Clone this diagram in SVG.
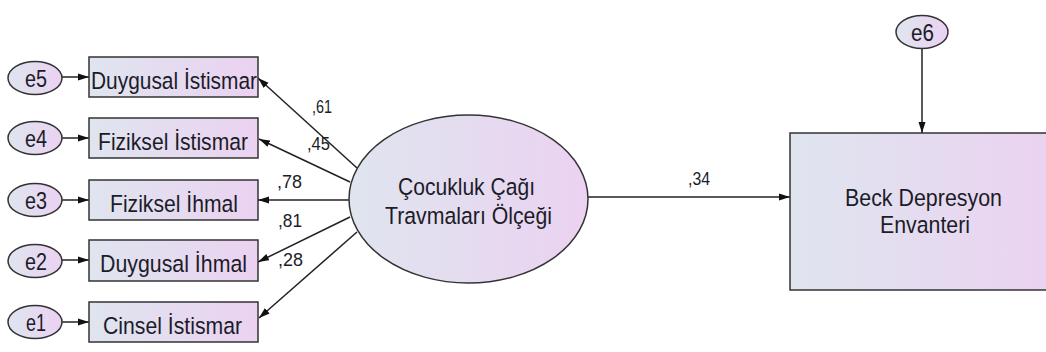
<svg xmlns="http://www.w3.org/2000/svg" width="1046" height="352" viewBox="0 0 1046 352">
<defs>
<linearGradient id="g" x1="0" y1="0" x2="1" y2="0">
<stop offset="0" stop-color="#dfe5ef"/>
<stop offset="1" stop-color="#ebd2f1"/>
</linearGradient>
<marker id="ah" markerUnits="userSpaceOnUse" markerWidth="12" markerHeight="8" refX="11" refY="4" orient="auto">
<path d="M0,0.5 L11,4 L0,7.5 z" fill="#111"/>
</marker>
</defs>
<style>
.n{fill:url(#g);stroke:#333;stroke-width:1.5}
.t{font-family:"Liberation Sans",Arial,sans-serif;fill:#1c1c28}
.b{font-size:24.5px}
.l{font-size:19px}
.c{stroke:#222;stroke-width:1.5;fill:none;marker-end:url(#ah)}
</style>
<rect width="1046" height="352" fill="#fff"/>
<g id="connectors">
<line class="c" x1="62" y1="77" x2="89" y2="77"/>
<line class="c" x1="62" y1="138" x2="89" y2="138"/>
<line class="c" x1="62" y1="200" x2="89" y2="200"/>
<line class="c" x1="62" y1="260" x2="89" y2="260"/>
<line class="c" x1="62" y1="322" x2="89" y2="322"/>
<line class="c" x1="357" y1="168" x2="258" y2="78"/>
<line class="c" x1="350" y1="182" x2="259" y2="139"/>
<line class="c" x1="349" y1="200" x2="258" y2="200"/>
<line class="c" x1="350" y1="217" x2="258" y2="262"/>
<line class="c" x1="357" y1="232" x2="259" y2="318"/>
<line class="c" x1="588" y1="197" x2="790" y2="197"/>
<line class="c" x1="922" y1="49" x2="922" y2="133"/>
<text class="t l" x="312" y="113" textLength="20" lengthAdjust="spacingAndGlyphs">,61</text>
<text class="t l" x="307" y="150" textLength="23" lengthAdjust="spacingAndGlyphs">,45</text>
<text class="t l" x="277" y="188" textLength="25" lengthAdjust="spacingAndGlyphs">,78</text>
<text class="t l" x="278" y="227" textLength="24" lengthAdjust="spacingAndGlyphs">,81</text>
<text class="t l" x="278" y="266" textLength="25" lengthAdjust="spacingAndGlyphs">,28</text>
<text class="t l" x="688" y="185" textLength="22" lengthAdjust="spacingAndGlyphs">,34</text>
</g>
<g id="e5"><ellipse class="n" cx="35" cy="78" rx="27" ry="16.5"/><text class="t b" x="25" y="87" textLength="22" lengthAdjust="spacingAndGlyphs">e5</text></g>
<g id="e4"><ellipse class="n" cx="35" cy="138" rx="27" ry="16.5"/><text class="t b" x="25" y="147" textLength="22" lengthAdjust="spacingAndGlyphs">e4</text></g>
<g id="e3"><ellipse class="n" cx="35" cy="200" rx="27" ry="16.5"/><text class="t b" x="25" y="209" textLength="22" lengthAdjust="spacingAndGlyphs">e3</text></g>
<g id="e2"><ellipse class="n" cx="35" cy="261" rx="27" ry="16.5"/><text class="t b" x="25" y="270" textLength="22" lengthAdjust="spacingAndGlyphs">e2</text></g>
<g id="e1"><ellipse class="n" cx="35" cy="322" rx="27" ry="16.5"/><text class="t b" x="26" y="331" textLength="20" lengthAdjust="spacingAndGlyphs">e1</text></g>
<g id="duygusal-istismar"><rect class="n" x="89" y="57" width="169" height="40"/><text class="t b" x="91" y="88.5" textLength="166" lengthAdjust="spacingAndGlyphs">Duygusal İstismar</text></g>
<g id="fiziksel-istismar"><rect class="n" x="89" y="118" width="169" height="40"/><text class="t b" x="98" y="149.5" textLength="150" lengthAdjust="spacingAndGlyphs">Fiziksel İstismar</text></g>
<g id="fiziksel-ihmal"><rect class="n" x="89" y="180" width="169" height="40"/><text class="t b" x="110" y="211.5" textLength="128" lengthAdjust="spacingAndGlyphs">Fiziksel İhmal</text></g>
<g id="duygusal-ihmal"><rect class="n" x="89" y="240" width="169" height="41"/><text class="t b" x="100" y="271.5" textLength="147" lengthAdjust="spacingAndGlyphs">Duygusal İhmal</text></g>
<g id="cinsel-istismar"><rect class="n" x="89" y="302" width="169" height="40"/><text class="t b" x="103" y="333.5" textLength="139" lengthAdjust="spacingAndGlyphs">Cinsel İstismar</text></g>
<g id="ctq"><ellipse class="n" cx="468.5" cy="199" rx="119.5" ry="84"/>
<text class="t b" x="398" y="195" textLength="137" lengthAdjust="spacingAndGlyphs">Çocukluk Çağı</text>
<text class="t b" x="385" y="224" textLength="167" lengthAdjust="spacingAndGlyphs">Travmaları Ölçeği</text></g>
<g id="beck"><rect class="n" x="790" y="133" width="262" height="157"/>
<text class="t b" x="845" y="206" textLength="157" lengthAdjust="spacingAndGlyphs">Beck Depresyon</text>
<text class="t b" x="880" y="233" textLength="90" lengthAdjust="spacingAndGlyphs">Envanteri</text></g>
<g id="e6"><ellipse class="n" cx="922" cy="32" rx="26" ry="16.5"/><text class="t b" x="911" y="41" textLength="23" lengthAdjust="spacingAndGlyphs">e6</text></g>
</svg>
